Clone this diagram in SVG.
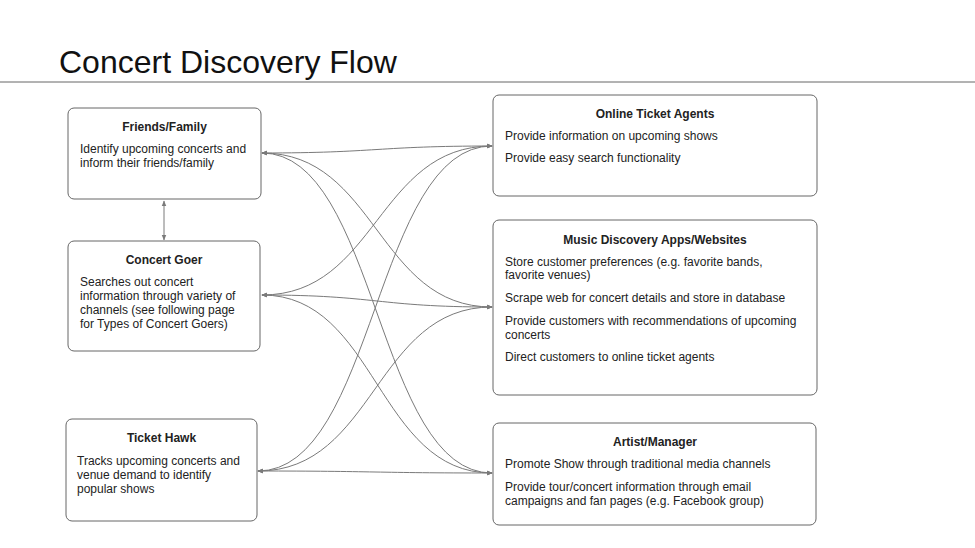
<svg xmlns="http://www.w3.org/2000/svg" width="975" height="548" viewBox="0 0 975 548">
<style>
.box{fill:#fff;stroke:#666;stroke-width:1}
.h{font-family:"Liberation Sans",Arial,sans-serif;font-size:12px;font-weight:bold;fill:#222;text-anchor:middle}
.t{font-family:"Liberation Sans",Arial,sans-serif;font-size:12px;fill:#222}
.c{fill:none;stroke:#7a7a7a;stroke-width:1;marker-start:url(#ah);marker-end:url(#ah)}
</style>
<defs>
<marker id="ah" viewBox="0 0 10 10" refX="9" refY="5" markerWidth="6" markerHeight="6" markerUnits="userSpaceOnUse" orient="auto-start-reverse">
<path d="M0,1 L10,5 L0,9 z" fill="#7a7a7a"/>
</marker>
</defs>
<rect width="975" height="548" fill="#fff"/>
<text x="59" y="73" font-family="Liberation Sans,Arial,sans-serif" font-size="32" fill="#111">Concert Discovery Flow</text>
<line x1="0" y1="82" x2="975" y2="82" stroke="#666" stroke-width="1"/>

<g id="connectors">
<path class="c" d="M164,201 L164,240"/>
<path class="c" d="M262,153 C377,153 377,146 492,146"/>
<path class="c" d="M262,153 C377,153 377,307 492,307"/>
<path class="c" d="M262,153 C377,153 377,473 492,473"/>
<path class="c" d="M262,295 C377,295 377,146 492,146"/>
<path class="c" d="M262,295 C377,295 377,307 492,307"/>
<path class="c" d="M262,295 C377,295 377,473 492,473"/>
<path class="c" d="M258,471 C375,471 375,146 492,146"/>
<path class="c" d="M258,471 C375,471 375,307 492,307"/>
<path class="c" d="M258,471 C375,471 375,473 492,473"/>
</g>

<g id="friends-family">
<rect class="box" x="68" y="108" width="193" height="91" rx="6"/>
<text class="h" x="164.5" y="131">Friends/Family</text>
<text class="t" x="80" y="153">Identify upcoming concerts and</text>
<text class="t" x="80" y="167">inform their friends/family</text>
</g>

<g id="concert-goer">
<rect class="box" x="68" y="241" width="192" height="110" rx="6"/>
<text class="h" x="164" y="264">Concert Goer</text>
<text class="t" x="80" y="286">Searches out concert</text>
<text class="t" x="80" y="300">information through variety of</text>
<text class="t" x="80" y="314">channels (see following page</text>
<text class="t" x="80" y="328">for Types of Concert Goers)</text>
</g>

<g id="ticket-hawk">
<rect class="box" x="66" y="419" width="191" height="102" rx="6"/>
<text class="h" x="161.5" y="442">Ticket Hawk</text>
<text class="t" x="77" y="465">Tracks upcoming concerts and</text>
<text class="t" x="77" y="479">venue demand to identify</text>
<text class="t" x="77" y="493">popular shows</text>
</g>

<g id="online-ticket-agents">
<rect class="box" x="493" y="95" width="324" height="101" rx="6"/>
<text class="h" x="655" y="118">Online Ticket Agents</text>
<text class="t" x="505" y="140">Provide information on upcoming shows</text>
<text class="t" x="505" y="162">Provide easy search functionality</text>
</g>

<g id="music-discovery">
<rect class="box" x="493" y="220" width="324" height="175" rx="6"/>
<text class="h" x="655" y="244">Music Discovery Apps/Websites</text>
<text class="t" x="505" y="266">Store customer preferences (e.g. favorite bands,</text>
<text class="t" x="505" y="279">favorite venues)</text>
<text class="t" x="505" y="302">Scrape web for concert details and store in database</text>
<text class="t" x="505" y="325">Provide customers with recommendations of upcoming</text>
<text class="t" x="505" y="339">concerts</text>
<text class="t" x="505" y="361">Direct customers to online ticket agents</text>
</g>

<g id="artist-manager">
<rect class="box" x="493" y="423" width="323" height="102" rx="6"/>
<text class="h" x="655" y="446">Artist/Manager</text>
<text class="t" x="505" y="468">Promote Show through traditional media channels</text>
<text class="t" x="505" y="491">Provide tour/concert information through email</text>
<text class="t" x="505" y="505">campaigns and fan pages (e.g. Facebook group)</text>
</g>
</svg>
